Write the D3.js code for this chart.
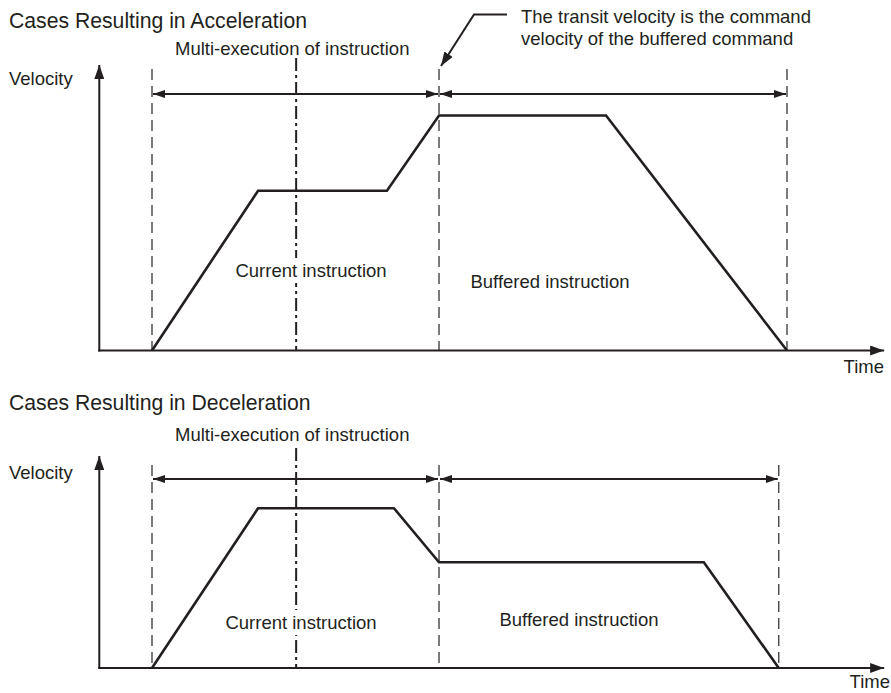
<!DOCTYPE html>
<html lang="en">
<head>
	<meta charset="utf-8">
	<title>buffered_velocity</title>
	<style>
		body { margin: 0; background: #fff; }
		svg { display: block; font-family: "Liberation Sans", Arial, sans-serif; }
	</style>
</head>
<body>
	<script src="https://cdn.jsdelivr.net/npm/d3@7/dist/d3.min.js"></script>
	<script>
		// velocity profiles (time units, velocity in % of top speed)
		const accelTime = [0, 16.7, 37, 45.2, 71.5, 100];
		const accelVel = [0, 68, 68, 100, 100, 0];
		const decelTime = [0, 16.7, 38.1, 45.2, 86.9, 98.7];
		const decelVel = [0, 68, 68, 45, 45, 0];

		// boundaries: start, transit point, end of buffered command
		const accelMarks = [0, 45.2, 100];
		const decelMarks = [0, 45.2, 98.7];
		const midMark = 22.7;

		const panelTitles = ["Cases Resulting in Acceleration", "Cases Resulting in Deceleration"];
		const spanLabel = "Multi-execution of instruction";
		const segLabels = ["Current instruction", "Buffered instruction"];
		const noteLines = ["The transit velocity is the command", "velocity of the buffered command"];

		const W = 891, H = 693;
		const ink = "#231f20";

		const svg = d3.select("body").append("svg")
			.attr("width", W)
			.attr("height", H);

		const defs = svg.append("defs");
		defs.append("marker")
			.attr("id", "tri")
			.attr("viewBox", "0 0 12 8")
			.attr("refX", 12).attr("refY", 4)
			.attr("markerWidth", 12).attr("markerHeight", 8)
			.attr("markerUnits", "userSpaceOnUse")
			.attr("orient", "auto-start-reverse")
			.append("path").attr("d", "M0,0L12,4L0,8Z").attr("fill", ink);
		defs.append("marker")
			.attr("id", "axisTri")
			.attr("viewBox", "0 0 14 10")
			.attr("refX", 14).attr("refY", 5)
			.attr("markerWidth", 14).attr("markerHeight", 10)
			.attr("markerUnits", "userSpaceOnUse")
			.attr("orient", "auto")
			.append("path").attr("d", "M0,0L14,5L0,10Z").attr("fill", ink);

		const x = d3.scaleLinear().domain([0, 100]).range([152, 787]);
		const axisStart = -8.3, axisEnd = 115.3;

		const panels = [
			{
				title: panelTitles[0], time: accelTime, vel: accelVel, marks: accelMarks,
				axisY: 350.5, titleY: 28, spanY: 55, velY: 85, arrowY: 94, dashTop: 69, dotTop: 58, tipY: 65,
				timeX: 884, timeY: 373, cur: [311, 277], buf: [550, 288], note: true
			},
			{
				title: panelTitles[1], time: decelTime, vel: decelVel, marks: decelMarks,
				axisY: 668, titleY: 410, spanY: 441, velY: 479, arrowY: 479, dashTop: 465, dotTop: 448, tipY: 456,
				timeX: 890, timeY: 688, cur: [301, 629], buf: [579, 626], note: false
			}
		];

		// label with a white knockout so guide lines stop behind it
		function label(g, pos, txt) {
			const t = g.append("text")
				.attr("x", pos[0]).attr("y", pos[1])
				.attr("text-anchor", "middle")
				.attr("font-size", 18.5).attr("fill", ink)
				.text(txt);
			const b = t.node().getBBox();
			g.insert("rect", () => t.node())
				.attr("x", b.x - 2).attr("y", b.y - 2)
				.attr("width", b.width + 4).attr("height", b.height + 4)
				.attr("fill", "#fff");
		}

		panels.forEach((p) => {
			const y = d3.scaleLinear().domain([0, 100]).range([p.axisY, p.axisY - 235]);
			const g = svg.append("g");

			g.append("text")
				.attr("x", 9).attr("y", p.titleY)
				.attr("font-size", 21.2).attr("fill", ink)
				.text(p.title);

			g.append("text")
				.attr("x", 175).attr("y", p.spanY)
				.attr("font-size", 18.5).attr("fill", ink)
				.text(spanLabel);

			g.append("text")
				.attr("x", 9).attr("y", p.velY)
				.attr("font-size", 18.5).attr("fill", ink)
				.text("Velocity");

			// boundary lines
			g.selectAll(".bound")
				.data(p.marks)
				.join("line")
				.attr("x1", (d) => x(d)).attr("x2", (d) => x(d))
				.attr("y1", p.dashTop).attr("y2", p.axisY)
				.attr("stroke", "#444").attr("stroke-width", 1.4)
				.attr("stroke-dasharray", "11,6");

			g.append("line")
				.attr("x1", x(midMark)).attr("x2", x(midMark))
				.attr("y1", p.dotTop).attr("y2", p.axisY)
				.attr("stroke", ink).attr("stroke-width", 2)
				.attr("stroke-dasharray", "13,4,3,4");

			// span arrows
			d3.pairs(p.marks).forEach(([a, b]) => {
				g.append("line")
					.attr("x1", x(a) + 1).attr("x2", x(b) - 1)
					.attr("y1", p.arrowY).attr("y2", p.arrowY)
					.attr("stroke", ink).attr("stroke-width", 2)
					.attr("marker-start", "url(#tri)")
					.attr("marker-end", "url(#tri)");
			});

			// axes
			g.append("line")
				.attr("x1", x(axisStart)).attr("x2", x(axisStart))
				.attr("y1", p.axisY + 1).attr("y2", p.tipY)
				.attr("stroke", ink).attr("stroke-width", 2)
				.attr("marker-end", "url(#axisTri)");
			g.append("line")
				.attr("x1", x(axisStart) - 1).attr("x2", x(axisEnd))
				.attr("y1", p.axisY).attr("y2", p.axisY)
				.attr("stroke", ink).attr("stroke-width", 2)
				.attr("marker-end", "url(#axisTri)");

			g.append("text")
				.attr("x", p.timeX).attr("y", p.timeY)
				.attr("text-anchor", "end")
				.attr("font-size", 18.5).attr("fill", ink)
				.text("Time");

			label(g, p.cur, segLabels[0]);
			label(g, p.buf, segLabels[1]);

			// velocity profile
			const line = d3.line()
				.x((d) => x(d[0]))
				.y((d) => y(d[1]));
			g.append("path")
				.datum(d3.zip(p.time, p.vel))
				.attr("d", line)
				.attr("fill", "none")
				.attr("stroke", ink)
				.attr("stroke-width", 2.6)
				.attr("stroke-linejoin", "miter");

			if (p.note) {
				const tx = x(p.marks[1]) + 2;
				g.append("path")
					.attr("d", `M507,14.5H474L${tx},66`)
					.attr("fill", "none")
					.attr("stroke", ink).attr("stroke-width", 2)
					.attr("marker-end", "url(#axisTri)");
				g.selectAll(".note")
					.data(noteLines)
					.join("text")
					.attr("x", 521)
					.attr("y", (d, i) => 23 + i * 22)
					.attr("font-size", 18.5).attr("fill", ink)
					.text((d) => d);
			}
		});
	</script>
</body>
</html>
